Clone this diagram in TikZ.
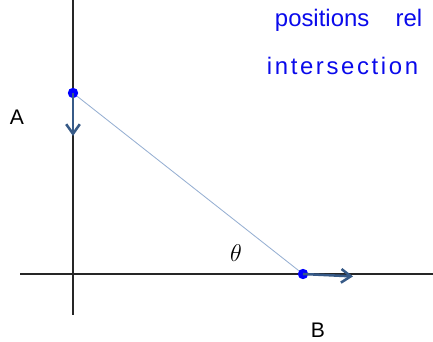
\documentclass[tikz,border=0pt]{standalone}
\usepackage{fontspec}
\setsansfont{Liberation Sans}
\usetikzlibrary{arrows.meta}
\definecolor{linkblue}{RGB}{150,175,210}
\definecolor{velblue}{RGB}{55,90,135}
\definecolor{inkblue}{RGB}{10,10,235}

\begin{document}
\begin{tikzpicture}[
    axis/.style={line width=0.8pt, black!85},
    vel/.style={line width=1.8pt, velblue, -{Straight Barb[length=2.4mm, width=3.4mm]}},
    dot/.style={circle, fill=blue, inner sep=0pt, minimum size=2.6mm},
    lbl/.style={font=\fontsize{15}{18}\selectfont\sffamily},
    ink/.style={inkblue, font=\fontsize{17}{20}\selectfont\sffamily, anchor=west}
  ]
  \useasboundingbox (0,0) rectangle (10.825,8.55);

  % Axes
  \coordinate (yTop) at (1.825, 8.55);
  \coordinate (yBot) at (1.825, 0.675);
  \coordinate (xLeft) at (0.5, 1.7);
  \coordinate (xRight) at (10.825, 1.7);
  \draw[axis] (yBot) -- (yTop);
  \draw[axis] (xLeft) -- (xRight);

  % Ladder ends
  \node[dot] (ptA) at (1.825, 6.225) {};
  \node[dot] (ptB) at (7.575, 1.7) {};
  \draw[linkblue, line width=0.6pt] (ptA) -- (ptB);

  % Velocities
  \coordinate (vA) at (1.825, 5.15);
  \coordinate (vB) at (8.825, 1.64);
  \draw[vel] (ptA.center) -- (vA);
  \draw[vel] (ptB.center) -- (vB);

  % Labels
  \node[lbl] (labA) at (0.425, 5.625) {A};
  \node[lbl] (labB) at (7.95, 0.3) {B};
  \node[font=\fontsize{16}{19}\selectfont] (theta) at (5.9, 2.225) {$\theta$};

  % Notes
  \node[ink] (note1) at (6.75, 8.05) {positions\hspace{1.1em}rel};
  \node[ink] (note2) at (6.55, 6.9) {\addfontfeature{LetterSpace=11}intersection};
\end{tikzpicture}
\end{document}
